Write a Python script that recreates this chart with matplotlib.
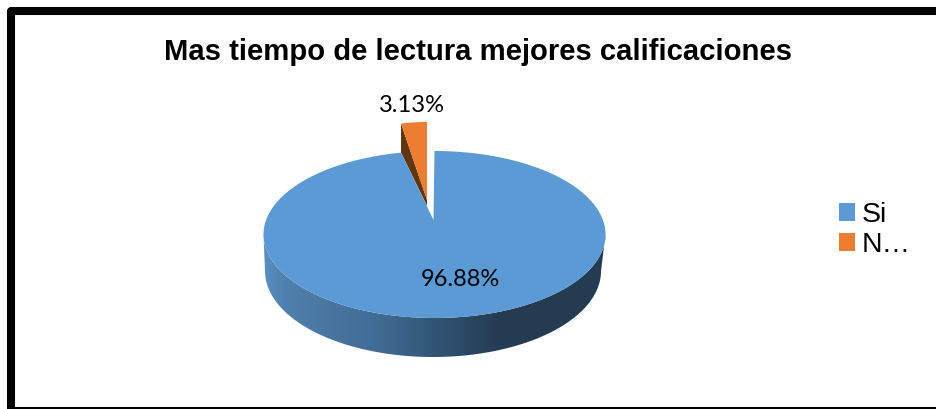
import numpy as np
import matplotlib
matplotlib.use('Agg')
import matplotlib.pyplot as plt
from matplotlib.colors import LinearSegmentedColormap
from matplotlib.patches import Patch, Polygon, Rectangle

title = 'Mas tiempo de lectura mejores calificaciones'
categories = ['Si', 'N…']
values = [96.88, 3.13]
value_labels = ['96.88%', '3.13%']

BLUE = '#5B9AD5'
ORANGE = '#ED7D31'
SIDE_DARK = '#613510'
SIDE_STOPS = ['#5A90C4', '#5080AD', '#3F6A92', '#2E4F6D', '#243C52', '#243D53']

W, H = 937, 409


def arc(cx, cy, rx, ry, start, end):
    # angles in degrees, picture y runs downwards
    t = np.radians(np.linspace(start, end, 200))
    return np.column_stack([cx + rx * np.cos(t), cy - ry * np.sin(t)])


def main():
    plt.rcParams['font.family'] = ['Liberation Sans', 'DejaVu Sans']
    fig = plt.figure(figsize=(W / 100, H / 100), dpi=100)
    ax = fig.add_axes([0, 0, 1, 1])
    ax.set_xlim(0, W)
    ax.set_ylim(H, 0)
    ax.axis('off')

    # frame runs off the right of the picture, bottom edge only just shows.
    # filled, because agg drops unfilled line segments outside the canvas
    ax.add_patch(Rectangle((11, 11), 960, 400, fc='white', ec='black', lw=5.8,
                           joinstyle='round', zorder=0))

    ax.text(478.5, 60, title, ha='center', va='baseline', fontsize=21.1,
            fontweight='bold', color='black')

    small_angle = 360 * values[1] / sum(values)
    cx, cy, rx, ry = 434.5, 234.5, 171, 83.5
    start = 90 + small_angle

    # rim of the big slice
    rim = np.vstack([arc(cx, cy, rx, ry, 180, 360),
                     arc(433, 271, 168, 86, 360, 180)])
    cmap = LinearSegmentedColormap.from_list(
        'rim', list(zip([0, 0.06, 0.35, 0.54, 0.69, 1], SIDE_STOPS)))
    grad = np.linspace(0, 1, 342).reshape(1, -1)
    im = ax.imshow(grad, cmap=cmap, extent=(263, 607, 360, 230), aspect='auto', zorder=1)
    im.set_clip_path(Polygon(rim, closed=True, transform=ax.transData))
    ax.set_xlim(0, W)
    ax.set_ylim(H, 0)

    # exploded slice, its own smaller scale because of the perspective
    ox, oy, orx, ory = 427, 200, 133, 78
    o_arc = arc(ox, oy, orx, ory, 90, 90 + small_angle)
    outer = o_arc[-1]
    ax.add_patch(Polygon([outer, outer + [0, 29], [ox, oy + 6], [ox, oy]],
                         closed=True, fc=SIDE_DARK, ec='none', zorder=2))

    # top of the big slice
    top = np.vstack([[[433.5, 220]], arc(cx, cy, rx, ry, start, 450)])
    ax.add_patch(Polygon(top, closed=True, fc=BLUE, ec='none', zorder=3))

    ax.add_patch(Polygon(np.vstack([[[ox, oy]], o_arc]), closed=True,
                         fc=ORANGE, ec='none', zorder=4))

    ax.text(460.5, 280, value_labels[0], ha='center', va='center',
            fontsize=17, family=['Lato', 'DejaVu Sans'], zorder=5)
    ax.text(412, 105, value_labels[1], ha='center', va='center',
            fontsize=17, family=['Lato', 'DejaVu Sans'], zorder=5)

    handles = [Patch(fc=BLUE, ec='none'), Patch(fc=ORANGE, ec='none')]
    ax.legend(handles, categories, loc='upper left',
              bbox_to_anchor=(839 / W, 1 - 202 / H), frameon=False, fontsize=20.5,
              borderpad=0, borderaxespad=0, handlelength=0.56, handleheight=0.56,
              handletextpad=0.25, labelspacing=0.14)

    fig.savefig('out.png', dpi=100)


if __name__ == "__main__":
    main()
